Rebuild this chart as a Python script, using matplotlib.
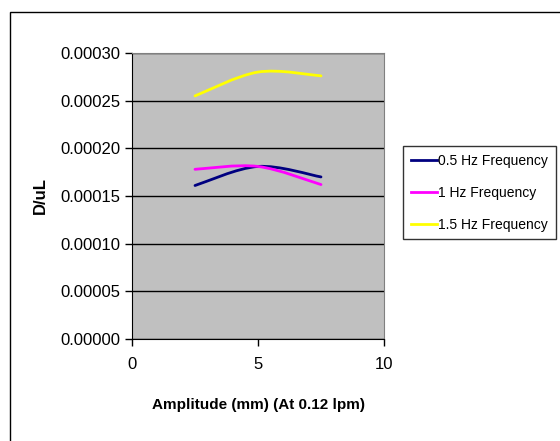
"""D/uL vs amplitude at 0.12 lpm for three oscillation frequencies."""

import matplotlib
matplotlib.use("Agg")
import matplotlib.pyplot as plt
from matplotlib.path import Path
from matplotlib.patches import PathPatch, Rectangle
from matplotlib.lines import Line2D

plt.rcParams["font.family"] = ["Liberation Sans", "DejaVu Sans"]

# --- data --------------------------------------------------------------------
AMPLITUDE = [2.5, 5.0, 7.5]
SERIES_NAMES = ["0.5 Hz Frequency", "1 Hz Frequency", "1.5 Hz Frequency"]
D_UL_05HZ = [0.000161, 0.000181, 0.000170]
D_UL_1HZ = [0.000178, 0.000181, 0.000162]
D_UL_15HZ = [0.000255, 0.000280, 0.000276]
Y_TICKS = [0.0, 0.00005, 0.00010, 0.00015, 0.00020, 0.00025, 0.00030]
X_TICKS = [0, 5, 10]

COLORS = ["#000080", "#FF00FF", "#FFFF00"]


def smooth_path(xs, ys):
    """Excel-style smoothed line: cubic Bezier segments through the points."""
    pts = list(zip(xs, ys))
    verts = [pts[0]]
    codes = [Path.MOVETO]
    n = len(pts)
    for i in range(n - 1):
        p_prev = pts[max(i - 1, 0)]
        p0 = pts[i]
        p1 = pts[i + 1]
        p_next = pts[min(i + 2, n - 1)]
        c1 = (p0[0] + (p1[0] - p_prev[0]) / 6, p0[1] + (p1[1] - p_prev[1]) / 6)
        c2 = (p1[0] - (p_next[0] - p0[0]) / 6, p1[1] - (p_next[1] - p0[1]) / 6)
        verts += [c1, c2, p1]
        codes += [Path.CURVE4] * 3
    return Path(verts, codes)


fig = plt.figure(figsize=(5.6, 4.41), dpi=100)
fig.patches.append(Rectangle((10 / 560, -0.05), 1.0, 1 - 12 / 441 + 0.05,
                             transform=fig.transFigure, fill=False,
                             edgecolor="black", linewidth=1.0))

ax = fig.add_axes([132 / 560, 102 / 441, 252 / 560, 286 / 441])
ax.set_facecolor("#C0C0C0")

handles = []
for ys, color, name in zip([D_UL_05HZ, D_UL_1HZ, D_UL_15HZ], COLORS, SERIES_NAMES):
    ax.add_patch(PathPatch(smooth_path(AMPLITUDE, ys), fill=False,
                           edgecolor=color, linewidth=2.0, capstyle="round"))
    handles.append(Line2D([], [], color=color, linewidth=2.0, label=name))

ax.set_xlim(0, 10)
ax.set_ylim(0, 0.0003)
ax.set_xticks(X_TICKS)
ax.set_yticks(Y_TICKS)
ax.set_yticklabels([f"{v:.5f}" for v in Y_TICKS])
ax.tick_params(axis="both", direction="out", length=5, width=1,
               labelsize=12, color="black")
ax.tick_params(axis="x", pad=8)
ax.grid(axis="y", color="black", linewidth=1.0)
ax.set_axisbelow(True)

for side in ("left", "bottom"):
    ax.spines[side].set_color("black")
for side in ("top", "right"):
    ax.spines[side].set_color("#808080")

ax.set_xlabel("Amplitude (mm) (At 0.12 lpm)", fontsize=11, fontweight="bold",
              labelpad=19)
ax.set_ylabel("D/uL", fontsize=12, fontweight="bold", labelpad=9)

fig.legend(handles=handles, loc="upper left",
           bbox_to_anchor=(403 / 560, 1 - 146 / 441),
           frameon=True, fancybox=False, edgecolor="black", fontsize=10,
           handlelength=1.9, handletextpad=0.1, labelspacing=1.3,
           borderpad=0.55, borderaxespad=0)

fig.savefig("out.png", dpi=100, facecolor="white")
